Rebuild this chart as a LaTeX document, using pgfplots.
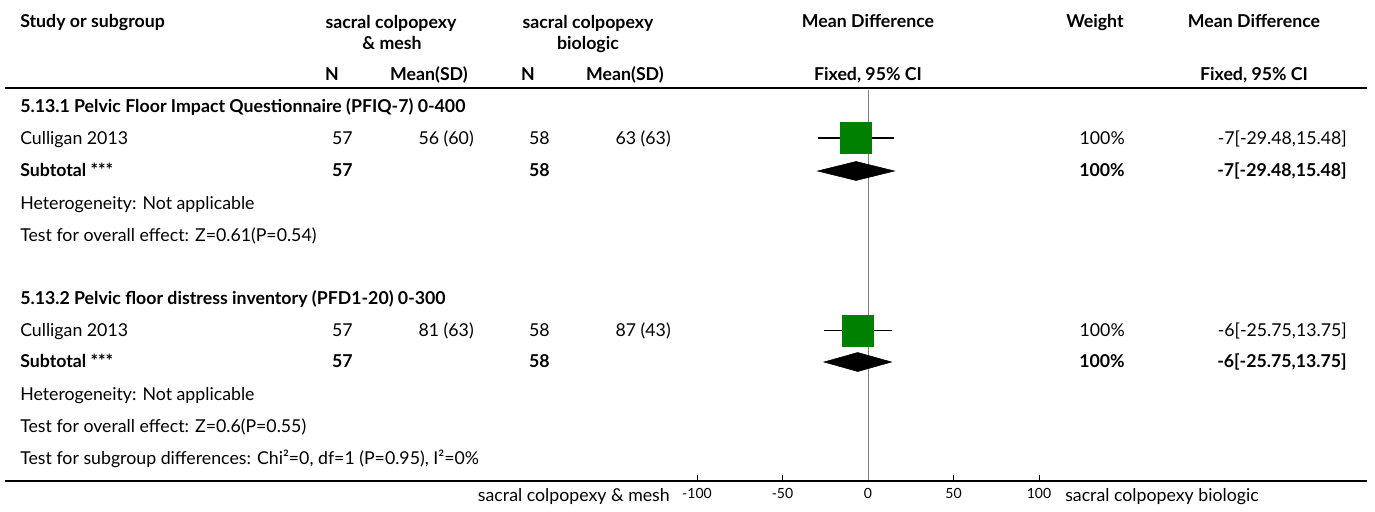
\documentclass[border=0pt]{standalone}
\usepackage{pgfplots}
\pgfplotsset{compat=1.18}
\usepackage{fontspec}
\setmainfont{Lato}
\definecolor{fgreen}{RGB}{0,128,0}
\newcommand\T[4]{\node[anchor=#3,inner sep=0pt] at ({#1*0.75pt},{-#2*0.75pt}) {#4};}
\newcommand\B[4]{\node[anchor=#3,inner sep=0pt,font=\bfseries] at ({#1*0.75pt},{-#2*0.75pt}) {#4};}
\begin{document}
\fontsize{13.3}{15}\selectfont
\begin{tikzpicture}
\path[use as bounding box] (0,0) rectangle (1031.25pt,-383.25pt);
\begin{axis}[scale only axis, width=256.5pt, height=294.75pt,
  at={(522.75pt,-360.75pt)}, anchor=south west,
  xmin=-100, xmax=100, ymin=-481, ymax=-88,
  axis x line=bottom, axis y line=none, axis line style={-, draw=none},
  xtick={-100,-50,0,50,100}, tick align=inside, major tick length=4.5pt,
  tick style={black, line width=0.6pt},
  /pgf/number format/assume math mode=true,
  xticklabel style={font=\fontsize{10.5}{12}\selectfont, yshift=-1pt},
  clip=false]
\addplot[gray, line width=0.5pt] coordinates {(0,-90) (0,-481)};
% study 1
\addplot[only marks, mark=square*, mark size=11.6pt, mark options={fill=fgreen, draw=fgreen}] coordinates {(-7,-138)};
\addplot[black, line width=0.8pt] coordinates {(-29.48,-138) (15.48,-138)};
\addplot[black, line width=0.6pt] coordinates {(-7,-133) (-7,-143)};
\addplot[fill=black, draw=black] coordinates {(-29.48,-171) (-7,-161.5) (15.48,-171) (-7,-180.5)} -- cycle;
% study 2
\addplot[only marks, mark=square*, mark size=11.6pt, mark options={fill=fgreen, draw=fgreen}] coordinates {(-6,-330.5)};
\addplot[black, line width=0.8pt] coordinates {(-25.75,-330.5) (13.75,-330.5)};
\addplot[black, line width=0.6pt] coordinates {(-6,-325.5) (-6,-335.5)};
\addplot[fill=black, draw=black] coordinates {(-25.75,-362) (-6,-352.5) (13.75,-362) (-6,-371.5)} -- cycle;
\end{axis}
% rules
\draw[line width=1.1pt] (5*0.75pt,-88*0.75pt) -- (1367*0.75pt,-88*0.75pt);
\draw[line width=1.1pt] (5*0.75pt,-481*0.75pt) -- (1367*0.75pt,-481*0.75pt);
% header
\B{20}{23}{mid west}{Study or subgroup}
\B{391}{24}{mid}{sacral colpopexy}
\B{392}{45}{mid}{\& mesh}
\B{588}{24}{mid}{sacral colpopexy}
\B{588}{45}{mid}{biologic}
\B{868}{23}{mid}{Mean Difference}
\B{1095}{23}{mid}{Weight}
\B{1254}{23}{mid}{Mean Difference}
\B{332}{76}{mid}{N}
\B{468}{76}{mid east}{Mean(SD)}
\B{528}{76}{mid}{N}
\B{664}{76}{mid east}{Mean(SD)}
\B{868}{76}{mid}{Fixed, 95\% CI}
\B{1254}{76}{mid}{Fixed, 95\% CI}
% group 1
\B{20}{108}{mid west}{5.13.1 Pelvic Floor Impact Questionnaire (PFIQ-7) 0-400}
\T{20}{140}{mid west}{Culligan 2013}
\T{353}{140}{mid east}{57}
\T{474}{140}{mid east}{56 (60)}
\T{550}{140}{mid east}{58}
\T{671}{140}{mid east}{63 (63)}
\T{1125}{140}{mid east}{100\%}
\T{1347}{140}{mid east}{-7[-29.48,15.48]}
\B{20}{172}{mid west}{Subtotal ***}
\B{353}{172}{mid east}{57}
\B{550}{172}{mid east}{58}
\B{1125}{172}{mid east}{100\%}
\B{1347}{172}{mid east}{-7[-29.48,15.48]}
\T{20}{205}{mid west}{Heterogeneity: Not applicable}
\T{20}{237}{mid west}{Test for overall effect: Z=0.61(P=0.54)}
% group 2
\B{20}{300}{mid west}{5.13.2 Pelvic floor distress inventory (PFD1-20) 0-300}
\T{20}{332}{mid west}{Culligan 2013}
\T{353}{332}{mid east}{57}
\T{474}{332}{mid east}{81 (63)}
\T{550}{332}{mid east}{58}
\T{671}{332}{mid east}{87 (43)}
\T{1125}{332}{mid east}{100\%}
\T{1347}{332}{mid east}{-6[-25.75,13.75]}
\B{20}{363}{mid west}{Subtotal ***}
\B{353}{363}{mid east}{57}
\B{550}{363}{mid east}{58}
\B{1125}{363}{mid east}{100\%}
\B{1347}{363}{mid east}{-6[-25.75,13.75]}
\T{20}{396}{mid west}{Heterogeneity: Not applicable}
\T{20}{428}{mid west}{Test for overall effect: Z=0.6(P=0.55)}
\T{20}{460}{mid west}{Test for subgroup differences: Chi²=0, df=1 (P=0.95), I²=0\%}
% bottom labels
\T{670}{497}{mid east}{sacral colpopexy \& mesh}
\T{1065}{497}{mid west}{sacral colpopexy biologic}
\end{tikzpicture}
\end{document}
